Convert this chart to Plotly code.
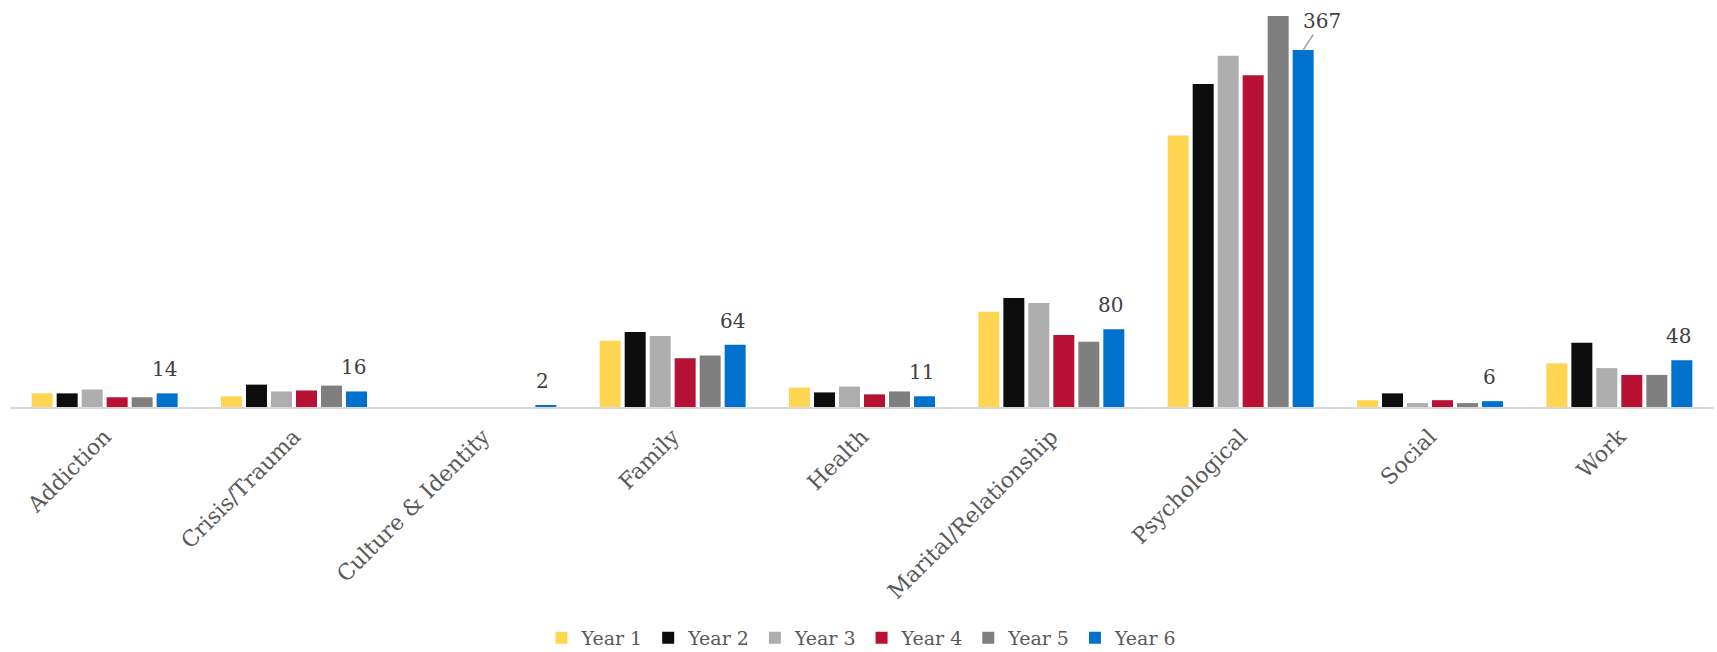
import plotly.graph_objects as go

# Case counts by presenting issue, six programme years
categories = ["Addiction", "Crisis/Trauma", "Culture & Identity", "Family", "Health",
              "Marital/Relationship", "Psychological", "Social", "Work"]
year_names = ["Year 1", "Year 2", "Year 3", "Year 4", "Year 5", "Year 6"]

year_1 = [14, 11, 0, 68, 20, 98, 279, 7, 45]
year_2 = [14, 23, 0, 77, 15, 112, 332, 14, 66]
year_3 = [18, 16, 0, 73, 21, 107, 361, 4, 40]
year_4 = [10, 17, 0, 50, 13, 74, 341, 7, 33]
year_5 = [10, 22, 0, 53, 16, 67, 402, 4, 33]
year_6 = [14, 16, 2, 64, 11, 80, 367, 6, 48]

series = [year_1, year_2, year_3, year_4, year_5, year_6]
colors = ["#FFD551", "#0D0D0D", "#AEAEAE", "#B71234", "#7F7F7F", "#0072CE"]

FONT = "DejaVu Serif"
BARGAP = 0.208
BARGROUPGAP = 0.16

xs = list(range(len(categories)))

fig = go.Figure()
for name, vals, col in zip(year_names, series, colors):
    fig.add_trace(go.Bar(
        x=xs, y=vals, name=name,
        marker=dict(color=col, line=dict(width=0)),
        hoverinfo="y+name",
    ))

# value labels for the latest year, placed over its bar in each group
n = len(series)
slot = (1 - BARGAP) / n
last_offset = -(1 - BARGAP) / 2 + slot * (n - 0.5)
peak = max(year_6)
label_font = dict(family=FONT, size=20, color="#404040")
for i, v in enumerate(year_6):
    if v == peak:
        fig.add_annotation(
            x=i + last_offset, y=v, text=str(v),
            showarrow=True, arrowhead=0, arrowwidth=1.5, arrowcolor="#A6A6A6",
            standoff=0, ax=19, ay=-29, font=label_font,
        )
    else:
        fig.add_annotation(
            x=i + last_offset, y=v, text=str(v),
            showarrow=False, yanchor="bottom", yshift=10, xshift=-3,
            font=label_font,
        )

fig.update_layout(
    width=1717, height=652,
    margin=dict(l=10, r=3, t=1, b=245, autoexpand=False),
    paper_bgcolor="white", plot_bgcolor="white",
    barmode="group", bargap=BARGAP, bargroupgap=BARGROUPGAP,
    showlegend=True,
    legend=dict(
        orientation="h", x=0.5, xanchor="center", y=-0.569, yanchor="middle",
        font=dict(family=FONT, size=19, color="#595959"),
        traceorder="normal",
    ),
    font=dict(family=FONT, color="#595959"),
)
fig.update_xaxes(
    tickmode="array", tickvals=xs, ticktext=categories,
    range=[-0.5, len(categories) - 0.5],
    tickangle=-45, tickfont=dict(family=FONT, size=22, color="#595959"),
    ticklabelstandoff=6, automargin=False,
    showline=True, linecolor="#D9D9D9", linewidth=2,
    showgrid=False, zeroline=False, ticks="",
)
fig.update_yaxes(
    range=[0, 417.4], visible=False, showgrid=False, zeroline=False,
    automargin=False,
)

fig.write_html("out.html")
